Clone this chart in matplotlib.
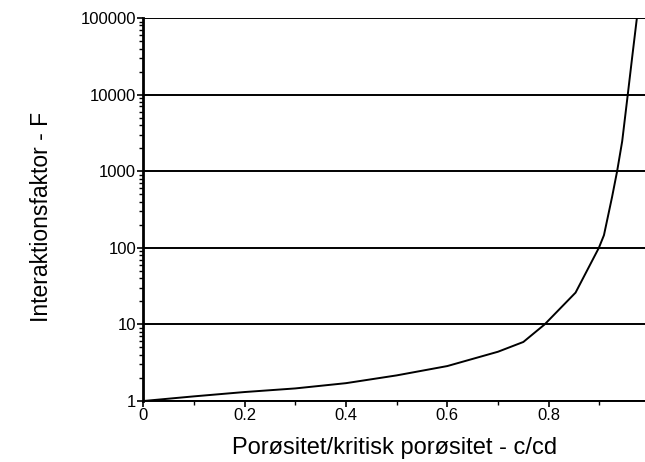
import matplotlib
matplotlib.use("Agg")
import matplotlib.pyplot as plt
from matplotlib.ticker import LogLocator, NullFormatter, FixedLocator, MultipleLocator

# Data (porosity ratio c/cd vs interaction factor F)
ratio = [0.0, 0.1, 0.2, 0.3, 0.4, 0.5, 0.6, 0.7, 0.75, 0.792, 0.853, 0.899, 0.909, 0.925, 0.935, 0.945, 0.956, 0.965, 0.974]
factor = [1.0, 1.15, 1.31, 1.46, 1.71, 2.16, 2.86, 4.4, 5.9, 10.0, 26, 100, 146, 460, 1000, 2460, 10000, 32000, 100000]

y_ticks = [1, 10, 100, 1000, 10000, 100000]
y_tick_labels = ["1", "10", "100", "1000", "10000", "100000"]
x_ticks = [0, 0.2, 0.4, 0.6, 0.8]
x_tick_labels = ["0", "0.2", "0.4", "0.6", "0.8"]

plt.rcParams['font.family'] = ['Liberation Sans', 'DejaVu Sans']

fig = plt.figure(figsize=(6.45, 4.62), dpi=100)
ax = fig.add_axes([0.222, 0.132, 0.778, 0.829])

for yv in y_ticks:
    ax.axhline(yv, color='black', lw=1.4, zorder=1)

ax.plot(ratio, factor, color='black', lw=1.4, zorder=3)

ax.set_yscale('log')
ax.set_ylim(1, 100000)
ax.set_xlim(0, 0.99)

ax.yaxis.set_major_locator(FixedLocator(y_ticks))
ax.set_yticklabels(y_tick_labels)
ax.yaxis.set_minor_locator(LogLocator(base=10, subs=range(2, 10)))
ax.yaxis.set_minor_formatter(NullFormatter())

ax.set_xticks(x_ticks)
ax.set_xticklabels(x_tick_labels)
ax.xaxis.set_minor_locator(MultipleLocator(0.1))

for s in ['top', 'right']:
    ax.spines[s].set_visible(False)
ax.spines['left'].set_linewidth(2)
ax.spines['bottom'].set_linewidth(1.4)

ax.tick_params(axis='both', which='major', direction='out', length=4, width=1.2, labelsize=12, pad=1)
ax.tick_params(axis='both', which='minor', direction='out', length=3, width=1.0)

ax.set_xlabel("Porøsitet/kritisk porøsitet - c/cd", fontsize=17, labelpad=10)
ax.set_ylabel("Interaktionsfaktor - F", fontsize=16.5)
ax.yaxis.set_label_coords(-0.18, 0.48)

fig.savefig("out.png", dpi=100)
